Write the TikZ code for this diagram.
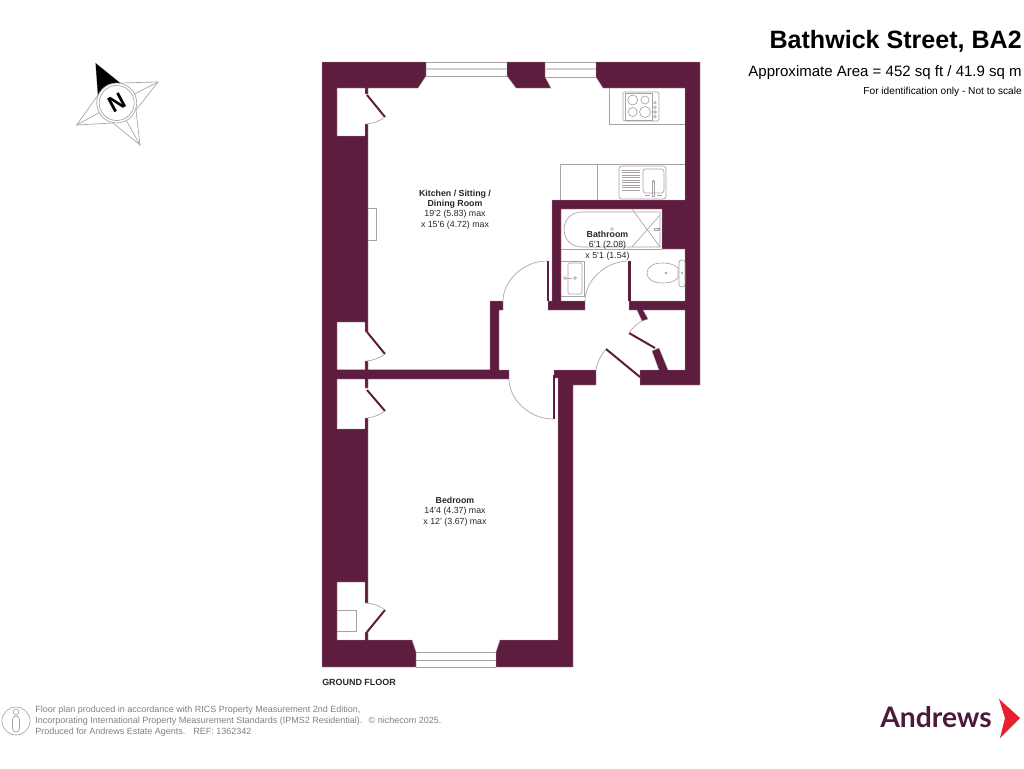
\documentclass[tikz,border=0pt]{standalone}
\usepackage{fontspec}
\setmainfont{Liberation Sans}
\newfontfamily\logofont{Lato}
\definecolor{wallcol}{HTML}{5E1C3E}
\definecolor{fixcol}{HTML}{A8A2A8}
\definecolor{logocol}{HTML}{4B1C38}
\definecolor{chevcol}{HTML}{E8202E}
\definecolor{footcol}{HTML}{808080}
\tikzset{
	wall/.style={fill=wallcol, draw=fixcol, line width=0.3pt},
	leaf/.style={draw=wallcol, line width=1.5pt},
	jamb/.style={draw=wallcol, line width=1.7pt},
	fixture/.style={draw=fixcol, line width=0.5pt},
	swing/.style={draw=fixcol, line width=0.5pt},
	roomtext/.style={align=center, font=\fontsize{6.6}{7.8}\selectfont, text=black!85},
	foottext/.style={anchor=west, text=footcol, font=\fontsize{6.75}{8}\selectfont},
}
\begin{document}
\begin{tikzpicture}[x=0.75pt, y=-0.75pt]
	\useasboundingbox (0,0) rectangle (1024,768);

	\draw[wall] (322,62) -- (426,62) -- (426,76) -- (418,88) -- (368,88) -- (368,94) -- (365,94) -- (365,88) -- (337,88) -- (337,136) -- (365,136) -- (365,124) -- (368,124) -- (368,332) -- (365,332) -- (365,322) -- (337,322) -- (337,369.5) -- (365,369.5) -- (365,361) -- (368,361) -- (368,369.5) -- (490,369.5) -- (490,301) -- (503,301) -- (503,310) -- (499,310) -- (499,370) -- (509,370) -- (509,379) -- (368,379) -- (368,388) -- (365,388) -- (365,379) -- (337,379) -- (337,429) -- (365,429) -- (365,418) -- (368,418) -- (368,603) -- (365,603) -- (365,582) -- (337,582) -- (337,640) -- (365,640) -- (365,632) -- (368,632) -- (368,640) -- (412,640) -- (416,652) -- (416,667) -- (322,667) -- cycle;
	\draw[wall] (507,62) -- (545,62) -- (545,77) -- (551,88) -- (516,88) -- (507,76) -- cycle;
	\draw[wall] (596,62) -- (700,62) -- (700,385) -- (640,385) -- (640,370) -- (659,370) -- (652,351) -- (659,348) -- (668,370) -- (685,370) -- (685,310) -- (643,310) -- (648,319) -- (642,321) -- (637,310) -- (629,310) -- (629,301) -- (685,301) -- (685,249) -- (662,249) -- (662,209) -- (561,209) -- (561,301) -- (585,301) -- (585,310) -- (548,310) -- (548,301) -- (552,301) -- (552,200) -- (685,200) -- (685,88) -- (603,88) -- (596,77) -- cycle;
	\draw[wall] (496,667) -- (573,667) -- (573,385) -- (596,385) -- (596,370) -- (554,370) -- (554,378) -- (558,378) -- (558,640) -- (500,640) -- (496,652) -- cycle;

	% windows
	\draw[fixture] (426,62) -- (507,62) (426,76) -- (507,76);
	\draw[fixture, line width=1.5pt, draw=fixcol!50] (426,69) -- (507,69);
	\draw[fixture] (545,62) -- (596,62) (545,77) -- (596,77);
	\draw[fixture, line width=1.5pt, draw=fixcol!50] (545,69) -- (596,69);
	\draw[fixture] (416,652) -- (496,652) (416,660) -- (496,660) (416,667) -- (496,667);

	% cupboard doors
	\draw[leaf] (367,95) -- (385,117);
	\draw[swing] (385,117) .. controls (380,121) and (374,123) .. (367,124);
	\draw[leaf] (367,332) -- (385,354);
	\draw[swing] (385,354) .. controls (380,358) and (374,360) .. (367,361);
	\draw[leaf] (367,390) -- (385,411);
	\draw[swing] (385,411) .. controls (380,415) and (374,417) .. (367,418);
	\draw[leaf] (367,632) -- (385,610);
	\draw[swing] (385,610) .. controls (380,606) and (374,604) .. (367,603);

	% hall doors
	\draw[jamb] (548,261) -- (548,301);
	\draw[swing] (547,261) .. controls (523,261) and (503,281) .. (503,301);
	\draw[jamb] (629.5,261) -- (629.5,301);
	\draw[swing] (629,261) .. controls (605,261) and (585,281) .. (585,301);
	\draw[jamb] (554,375) -- (554,419);
	\draw[swing] (553,419) .. controls (529,419) and (509,399) .. (509,379);
	\draw[leaf] (606,349) -- (640,377);
	\draw[swing] (606,349) .. controls (601,355) and (597,362) .. (596,370);
	\draw[leaf] (629,333) -- (655,348);
	\draw[swing] (629,333) .. controls (632,328) and (637,324) .. (642,321);

	% kitchen units
	\draw[fixture] (609,88) -- (609,124) -- (685,124);
	\draw[fixture, rounded corners=1pt] (623,92) rectangle (659,121);
	\draw[fixture] (625,93) rectangle (652,120.5);
	\draw[fixture] (632.7,100) circle (5) (645,100) circle (4) (632.7,112) circle (4.5) (645,112) circle (5.5);
	\foreach \knoby in {102.7,107.3,112,116.7}
		\draw[fixture] (655,\knoby) circle (1.3);
	\draw[fixture] (560,200) -- (560,164) -- (685,164);
	\draw[fixture] (597,164) -- (597,200);
	\draw[fixture, rounded corners=2pt] (619,166) rectangle (666,199);
	\draw[fixture, rounded corners=2pt] (643,169) rectangle (664,193);
	\foreach \drainy in {170,172.5,...,192}
		\draw[fixture] (622,\drainy) -- (640,\drainy);
	\draw[fixture] (652.5,181) rectangle (654.5,196);
	\draw[fixture] (645,195) -- (650,195) (657,195) -- (662,195);
	\draw[fixture] (653.5,181) circle (1);

	% radiator and boiler
	\draw[fixture] (368,208) -- (376,208) -- (376,240) -- (368,240);
	\draw[fixture] (337,610) -- (356,610) -- (356,631) -- (337,631);

	% bathroom
	\draw[fixture] (561,249) -- (662,249);
	\draw[fixture] (660,212) -- (582,212) .. controls (571,212) and (564,220) .. (564,229.5) .. controls (564,239) and (571,247) .. (582,247) -- (660,247) -- cycle;
	\draw[fixture] (632,209) -- (660,247) (660,215) -- (632,247);
	\draw[fixture] (612,229) circle (1.5);
	\draw[fixture] (654,228) rectangle (658,230);
	\draw[fixture] (659,229) circle (1.2);
	\draw[fixture] (561,261) -- (584,261) -- (584,296) -- (561,296);
	\draw[fixture, rounded corners=1pt] (568,263) rectangle (582,294);
	\draw[fixture] (566,278) -- (572,278);
	\draw[fixture] (575,278) circle (1.3) (565,278) circle (1.5);
	\draw[fixture] (678,268) .. controls (674,264) and (668,263) .. (662,263) .. controls (653,263) and (647,267) .. (647,273) .. controls (647,279) and (653,283) .. (662,283) .. controls (668,283) and (674,282) .. (678,278) -- cycle;
	\draw[fixture, rounded corners=2pt] (679,260) rectangle (685,287);
	\draw[fixture] (666,273) circle (0.9) (682,273) circle (0.7);

	% room labels
	\node[roomtext] (kitchen) at (455,209.5) {\textbf{Kitchen / Sitting /}\\\textbf{Dining Room}\\19'2 (5.83) max\\x 15'6 (4.72) max};
	\node[roomtext] (bedroom) at (455,511.5) {\textbf{Bedroom}\\14'4 (4.37) max\\x 12' (3.67) max};
	\node[roomtext] (bathroom) at (607.5,245.5) {\textbf{Bathroom}\\6'1 (2.08)\\x 5'1 (1.54)};
	\node[anchor=base west, inner sep=0pt, font=\fontsize{6.7}{8}\selectfont\bfseries, text=black!85] (floor) at (322,685) {GROUND FLOOR};

	% heading
	\node[anchor=base east, inner sep=0pt, font=\fontsize{18.8}{20}\selectfont\bfseries] (title) at (1022,48.5) {Bathwick Street, BA2};
	\node[anchor=base east, inner sep=0pt, font=\fontsize{11.26}{12}\selectfont] (area) at (1022,76) {Approximate Area = 452 sq ft / 41.9 sq m};
	\node[anchor=base east, inner sep=0pt, font=\fontsize{7.6}{8}\selectfont] (scale) at (1022,94) {For identification only - Not to scale};

	% compass
	\coordinate (compass) at (116.7,103);
	\coordinate (tipn) at (95.7,63.3);
	\coordinate (tipe) at (158,82);
	\coordinate (tips) at (140,145);
	\coordinate (tipw) at (76.7,125);
	\draw[fixture] (tipn) -- (120,83) -- (tipe) -- (136,110) -- (tips) -- (113,123) -- (tipw) -- (98,95) -- cycle;
	\draw[fixture] (tipe) -- (compass) (tips) -- (compass) (tipw) -- (compass);
	\fill[black] (tipn) -- (120,83) -- (98,95) -- cycle;
	\draw[fixture, fill=white] (compass) circle (20);
	\draw[fixture] (compass) circle (17.5);
	\node[rotate=28, font=\fontsize{17}{17}\selectfont\bfseries] (north) at (compass) {N};

	% footer
	\draw[fixture, draw=footcol!70] (16,721) circle (14);
	\draw[fixture, draw=footcol!70] (16,712) circle (3);
	\draw[fixture, draw=footcol!70, rounded corners=2.5pt] (12.5,716) rectangle (19.5,732);
	\node[foottext, inner sep=0pt] (foot1) at (35,710) {Floor plan produced in accordance with RICS Property Measurement 2nd Edition,};
	\node[foottext, inner sep=0pt] (foot2) at (35,721) {Incorporating International Property Measurement Standards (IPMS2 Residential).\hspace{0.7em}© nichecom 2025.};
	\node[foottext, inner sep=0pt] (foot3) at (35,732) {Produced for Andrews Estate Agents.\hspace{0.9em}REF: 1362342};

	% logo
	\node[anchor=base west, inner sep=0pt, text=logocol, font=\fontsize{21.2}{24}\logofont\bfseries] (logo) at (880,727) {Andrews};
	\fill[chevcol] (999,699) -- (1020,718) -- (1000,738) -- (1005,718) -- cycle;
\end{tikzpicture}
\end{document}
